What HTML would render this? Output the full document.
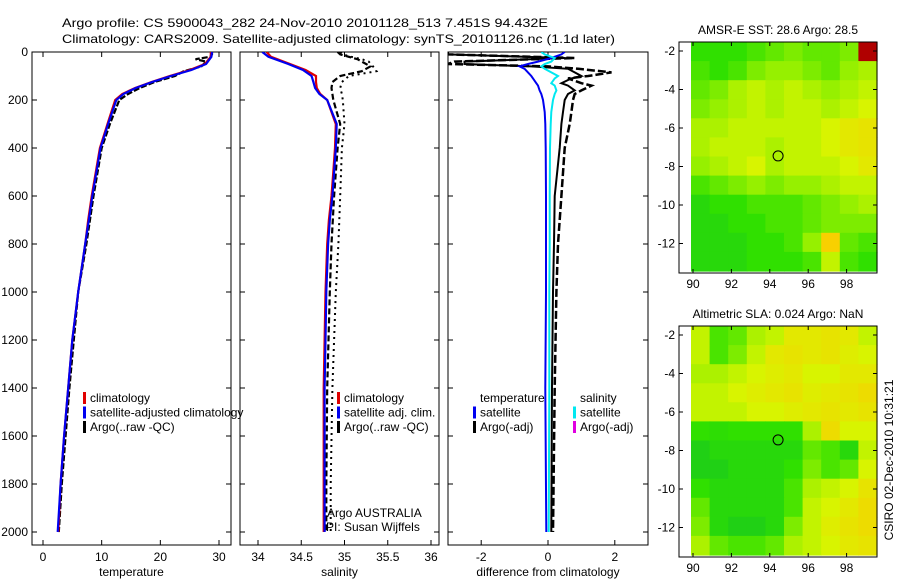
<!DOCTYPE html>
<html><head><meta charset="utf-8"><style>
body{margin:0;background:#fff;}
svg{display:block;font-family:"Liberation Sans",sans-serif;}
text{fill:#000;font-size:12px;}
</style></head><body>
<svg id="fig" width="900" height="580" viewBox="0 0 900 580">
<text x="62" y="27" font-size="13" textLength="486" lengthAdjust="spacingAndGlyphs">Argo profile: CS 5900043_282 24-Nov-2010 20101128_513 7.451S 94.432E</text>
<text x="62" y="43" font-size="13" textLength="553" lengthAdjust="spacingAndGlyphs">Climatology: CARS2009. Satellite-adjusted climatology: synTS_20101126.nc (1.1d later)</text>
<g id="g"></g>
<text transform="translate(893,460) rotate(-90)" text-anchor="middle" font-size="12">CSIRO 02-Dec-2010 10:31:21</text>
</svg>
<script>
// ---- data ----
const depthClim=[0,20,50,75,100,125,150,175,200,300,400,500,600,700,800,1000,1200,1400,1600,1800,2000];
const tempClim=[28.6,28.6,27.6,25,21.6,18.5,15.7,13.5,12.3,11,9.7,9,8.3,7.7,7.2,6,5,4.3,3.6,3,2.6];
const tempSat=[28.8,28.7,27.8,25.3,21.8,18.6,15.8,13.7,12.5,11.1,9.8,9.1,8.4,7.8,7.2,6,5,4.3,3.6,3,2.5];
const depthArgo=[0,10,20,30,40,60,80,100,125,150,175,200,300,400,600,800,1000,1400,1800,2000];
const tempArgo=[28.8,28.8,28.5,26,27.8,27,24,22.5,19,16.5,14.5,13,11.4,10,8.6,7.4,6,4.5,3.2,2.7];
const salClim=[34.1,34.15,34.37,34.55,34.67,34.67,34.68,34.72,34.8,34.9,34.89,34.87,34.85,34.82,34.8,34.78,34.77,34.76,34.76,34.76,34.76];
const salSat=[34.05,34.12,34.35,34.52,34.62,34.64,34.66,34.71,34.8,34.91,34.9,34.88,34.86,34.83,34.81,34.79,34.78,34.77,34.77,34.77,34.77];
const salArgo=[34.92,34.95,35.05,35.15,35.2,35.3,35.2,34.95,34.86,34.85,34.86,34.87,34.95,34.92,34.88,34.85,34.83,34.8,34.79,34.79];
const salArgoDot=[34.95,34.98,35.08,35.2,35.28,35.33,35.37,35.05,34.97,34.95,34.97,34.98,35.0,34.97,34.95,34.93,34.9,34.86,34.84,34.84];
const depthDiff=[0,10,25,40,50,60,70,85,100,110,130,140,160,175,200,250,300,400,600,800,1000,1400,2000];
const dTempSat=[0.5,0.4,0.1,-0.3,-0.6,-0.85,-0.7,-0.6,-0.5,-0.45,-0.35,-0.3,-0.25,-0.2,-0.15,-0.1,-0.08,-0.07,-0.06,-0.06,-0.06,-0.08,-0.05];
const dSalSat=[-0.2,-0.1,0.2,0.1,-0.1,-0.2,-0.1,0.1,0.3,0.2,0.1,0.2,0.25,0.2,0.15,0.1,0.08,0.06,0.05,0.05,0.04,0.04,0.02];
const dTempArgo=[-3,-3,0.5,-2.5,-2.5,-0.5,0.6,0.8,1.0,0.7,0.4,0.6,0.8,0.6,0.5,0.45,0.4,0.35,0.2,0.18,0.15,0.12,0.1];
const dTempArgoDash=[-3,-3,0.8,-2.8,-3,0,0.9,1.9,1.2,0.6,1.0,1.3,1.0,0.8,0.75,0.7,0.65,0.5,0.4,0.3,0.25,0.2,0.15];
const tempTicks=[0,10,20,30], salTicks=[34,34.5,35,35.5,36], diffTicks=[-2,0,2];
const depthTicks=[0,200,400,600,800,1000,1200,1400,1600,1800,2000];
const lonTicks=[90,92,94,96,98], latTicks=[-2,-4,-6,-8,-10,-12];
const sstGrid=[
[.3,.3,.3,.35,.4,.45,.4,.4,.45,1.2],
[.35,.3,.35,.45,.5,.5,.45,.4,.5,.55],
[.4,.45,.55,.6,.55,.6,.55,.5,.55,.6],
[.45,.5,.55,.6,.55,.6,.6,.55,.6,.65],
[.55,.55,.6,.6,.6,.6,.6,.65,.7,.72],
[.55,.6,.6,.6,.55,.6,.6,.65,.7,.72],
[.5,.55,.6,.65,.55,.6,.6,.6,.65,.7],
[.35,.4,.45,.5,.45,.5,.5,.55,.6,.6],
[.25,.3,.3,.35,.35,.35,.4,.45,.5,.55],
[.25,.25,.3,.3,.35,.35,.4,.45,.45,.45],
[.25,.25,.25,.3,.3,.35,.5,.8,.4,.35],
[.25,.25,.25,.3,.3,.3,.35,.6,.35,.3]];
const slaGrid=[
[.6,.35,.4,.55,.6,.7,.7,.72,.7,.6],
[.6,.35,.45,.6,.7,.72,.7,.72,.68,.65],
[.55,.55,.6,.65,.68,.7,.65,.65,.7,.7],
[.6,.6,.65,.68,.7,.72,.68,.7,.72,.75],
[.6,.6,.6,.65,.65,.68,.7,.72,.7,.72],
[.3,.28,.3,.3,.3,.3,.55,.75,.65,.65],
[.2,.25,.25,.25,.25,.25,.4,.35,.25,.6],
[.2,.2,.25,.25,.25,.3,.45,.35,.4,.65],
[.3,.25,.25,.25,.25,.35,.55,.6,.65,.72],
[.4,.25,.25,.25,.25,.35,.6,.65,.7,.75],
[.45,.25,.2,.2,.25,.45,.6,.68,.72,.75],
[.55,.4,.35,.35,.4,.55,.6,.65,.7,.72]];
const floatLon=94.432, floatLat=-7.451;

// ---- drawing ----
const NS='http://www.w3.org/2000/svg', G=document.getElementById('g');
function mk(t,a,p){const e=document.createElementNS(NS,t);for(const k in a)e.setAttribute(k,a[k]);(p||G).appendChild(e);return e;}
const Y=d=>52+d*0.24;
const panels=[
 {x0:32,x1:231,sx:v=>43+v*5.867,ticks:tempTicks,lab:'temperature',name:'temperature-panel'},
 {x0:240,x1:439,sx:v=>258+(v-34)*86.5,ticks:salTicks,lab:'salinity',name:'salinity-panel'},
 {x0:448,x1:648,sx:v=>548+v*33.4,ticks:diffTicks,lab:'difference from climatology',name:'difference-panel'}];
panels.forEach((p,i)=>{
 const g=mk('g',{});  
 const cp=mk('clipPath',{id:'c'+i},g); mk('rect',{x:p.x0,y:52,width:p.x1-p.x0,height:493},cp);
 p.g=g; p.clip='url(#c'+i+')';
 mk('rect',{x:p.x0,y:52,width:p.x1-p.x0,height:493,fill:'none',stroke:'#000','stroke-width':1},g);
 p.ticks.forEach(v=>{const x=p.sx(v);
  mk('line',{x1:x,x2:x,y1:545,y2:540,stroke:'#000'},g);mk('line',{x1:x,x2:x,y1:52,y2:57,stroke:'#000'},g);
  const t=mk('text',{x:x,y:561,'text-anchor':'middle'},g);t.textContent=v;
  
  });
 depthTicks.forEach(d=>{const y=Y(d);
  mk('line',{x1:p.x0,x2:p.x0+5,y1:y,y2:y,stroke:'#000'},g);mk('line',{x1:p.x1,x2:p.x1-5,y1:y,y2:y,stroke:'#000'},g);
  if(i==0){const t=mk('text',{x:28,y:y+4,'text-anchor':'end'},g);t.textContent=d;
   
   }});
 const t=mk('text',{x:(p.x0+p.x1)/2,y:576,'text-anchor':'middle'},g);t.textContent=p.lab;
 
 
});
function line(p,dep,vals,col,w,dash,name){
 const pts=dep.map((d,k)=>p.sx(vals[k]).toFixed(1)+','+Y(d).toFixed(1)).join(' ');
 const e=mk('polyline',{points:pts,fill:'none',stroke:col,'stroke-width':w,'clip-path':p.clip},p.g);
 if(dash)e.setAttribute('stroke-dasharray',dash);
 
 }
const [P1,P2,P3]=panels;
line(P1,depthArgo,tempArgo,'#000',2.2,'6,2','argo-temperature-line');
line(P1,depthClim,tempClim,'#e00000',2.2,null,'climatology-temperature-line');
line(P1,depthClim,tempSat,'#0000f0',2.2,null,'satellite-temperature-line');
line(P2,depthArgo,salArgoDot,'#000',2,'2,4','argo-salinity-dotted-line');
line(P2,depthArgo,salArgo,'#000',2.2,'6,3','argo-salinity-line');
line(P2,depthClim,salClim,'#e00000',2.2,null,'climatology-salinity-line');
line(P2,depthClim,salSat,'#0000f0',2.2,null,'satellite-salinity-line');
line(P3,depthDiff,dTempArgoDash,'#000',2.5,'8,3','argo-temp-diff-dashed');
line(P3,depthDiff,dTempArgo,'#000',2,null,'argo-temp-diff');
line(P3,depthDiff,dTempSat,'#0000f0',2,null,'satellite-temp-diff');
line(P3,depthDiff,dSalSat,'#00e8f0',2,null,'satellite-salinity-diff');
function legend(x,y,items,name){const g=mk('g',{});
 items.forEach((it,k)=>{const yy=y+k*14.5;
  if(it[1])mk('rect',{x:x,y:yy-10,width:3,height:12,fill:it[1]},g);
  const t=mk('text',{x:x+7,y:yy,'font-size':'13'},g);t.textContent=it[0];});}
legend(83,402,[['climatology','#e00000'],['satellite-adjusted climatology','#0000f0'],['Argo(..raw -QC)','#000']],'temperature-legend');
legend(337,402,[['climatology','#e00000'],['satellite adj. clim.','#0000f0'],['Argo(..raw -QC)','#000']],'salinity-legend');
legend(473,402,[['temperature',null],['satellite','#0000f0'],['Argo(-adj)','#000']],'difference-temperature-legend');
legend(573,402,[['salinity',null],['satellite','#00e8f0'],['Argo(-adj)','#e000e0']],'difference-salinity-legend');
{const t=mk('text',{x:327,y:517,'font-size':'13'});t.textContent='Argo AUSTRALIA';
 
 const t2=mk('text',{x:326,y:531,'font-size':'13'});t2.textContent='PI: Susan Wijffels';
 }
// maps
const stops=[[0,[0,176,64]],[.3,[48,224,0]],[.5,[150,240,0]],[.65,[216,244,0]],[.8,[248,208,0]],[1,[240,144,0]],[1.2,[176,0,0]]];
function cmap(v){for(let i=1;i<stops.length;i++){if(v<=stops[i][0]){const a=stops[i-1],b=stops[i],f=(v-a[0])/(b[0]-a[0]);
 return 'rgb('+a[1].map((c,j)=>Math.round(c+(b[1][j]-c)*f)).join(',')+')';}}return 'rgb(176,0,0)';}
function map(top,grid,title,name){
 const g=mk('g',{});
 const x0=679,x1=877,y1=top+231;
 const lx=lon=>693+(lon-90)*19.2, ly=lat=>top+9+(-2-lat)*19.25;
 const nr=grid.length,nc=grid[0].length,cw=(x1-691)/nc,ch=(y1-2-top)/nr;
 grid.forEach((row,r)=>row.forEach((v,c)=>{const e=mk('rect',{x:(691+c*cw).toFixed(1),y:(top+r*ch).toFixed(1),width:(cw+0.6).toFixed(1),height:(ch+0.6).toFixed(1),fill:cmap(v)},g);
  
  }));
 mk('rect',{x:x0,y:top,width:x1-x0,height:231,fill:'none',stroke:'#000'},g);
 lonTicks.forEach(l=>{const x=lx(l);mk('line',{x1:x,x2:x,y1:y1,y2:y1-4,stroke:'#000'},g);mk('line',{x1:x,x2:x,y1:top,y2:top+4,stroke:'#000'},g);
  const t=mk('text',{x:x,y:y1+15,'text-anchor':'middle'},g);t.textContent=l;});
 latTicks.forEach(l=>{const y=ly(l);mk('line',{x1:x0,x2:x0+4,y1:y,y2:y,stroke:'#000'},g);mk('line',{x1:x1,x2:x1-4,y1:y,y2:y,stroke:'#000'},g);
  const t=mk('text',{x:x0-4,y:y+4,'text-anchor':'end'},g);t.textContent=l;});
 const c=mk('circle',{cx:lx(floatLon),cy:ly(floatLat),r:5,fill:'none',stroke:'#000'},g);
 
 const t=mk('text',{x:778,y:top-8,'text-anchor':'middle'},g);t.textContent=title;}
map(42,sstGrid,'AMSR-E SST: 28.6 Argo: 28.5','sst-map');
map(326,slaGrid,'Altimetric SLA: 0.024 Argo: NaN','sla-map');
</script>
</body></html>
